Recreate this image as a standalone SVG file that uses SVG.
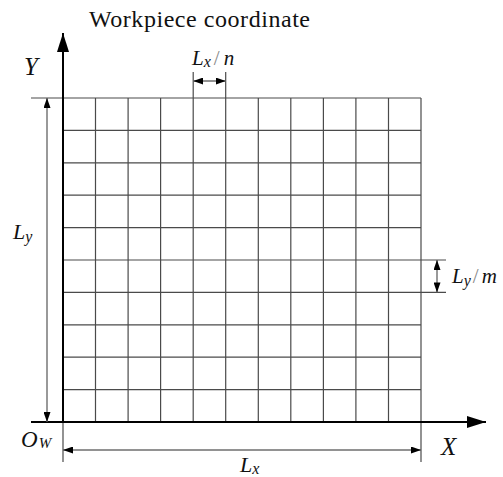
<svg xmlns="http://www.w3.org/2000/svg" width="503" height="477" viewBox="0 0 503 477">
<style>
.grid line{stroke:#4a4a4a;stroke-width:1.2}
.axis{stroke:#000;stroke-width:2;fill:none}
.dim{stroke:#6e6e6e;stroke-width:1.4;fill:none}
.lbl{font-family:"Liberation Serif","Times New Roman",Times,"DejaVu Serif",serif;fill:#111}
.it{font-style:italic}
.sl{font-style:normal;fill:#888}
</style>
<defs>
<marker id="ax" markerUnits="userSpaceOnUse" markerWidth="20" markerHeight="12" refX="19" refY="6" orient="auto"><path d="M0,0 L19,6 L0,12 z" fill="#000"/></marker>
<marker id="dm" markerUnits="userSpaceOnUse" markerWidth="11" markerHeight="7" refX="10" refY="3.5" orient="auto-start-reverse"><path d="M0,0 L10,3.5 L0,7 z" fill="#000"/></marker>
</defs>
<g id="grid" class="grid">
<line x1="95.5" y1="98" x2="95.5" y2="422"/>
<line x1="128.1" y1="98" x2="128.1" y2="422"/>
<line x1="160.6" y1="98" x2="160.6" y2="422"/>
<line x1="193.2" y1="72" x2="193.2" y2="422"/>
<line x1="225.7" y1="72" x2="225.7" y2="422"/>
<line x1="258.3" y1="98" x2="258.3" y2="422"/>
<line x1="290.8" y1="98" x2="290.8" y2="422"/>
<line x1="323.4" y1="98" x2="323.4" y2="422"/>
<line x1="355.9" y1="98" x2="355.9" y2="422"/>
<line x1="388.5" y1="98" x2="388.5" y2="422"/>
<line x1="421" y1="98" x2="421" y2="462"/>
<line x1="31" y1="98" x2="421" y2="98"/>
<line x1="63" y1="130.4" x2="421" y2="130.4"/>
<line x1="63" y1="162.8" x2="421" y2="162.8"/>
<line x1="63" y1="195.2" x2="421" y2="195.2"/>
<line x1="63" y1="227.6" x2="421" y2="227.6"/>
<line x1="63" y1="260" x2="446" y2="260"/>
<line x1="63" y1="292.4" x2="446" y2="292.4"/>
<line x1="63" y1="324.8" x2="421" y2="324.8"/>
<line x1="63" y1="357.2" x2="421" y2="357.2"/>
<line x1="63" y1="389.6" x2="421" y2="389.6"/>
<line x1="63" y1="422" x2="63" y2="462"/>
</g>
<g id="connectors">
<line class="axis" x1="63" y1="423" x2="63" y2="33" marker-end="url(#ax)"/>
<line class="axis" x1="31" y1="422" x2="486" y2="422" marker-end="url(#ax)"/>
<line class="dim" x1="47" y1="98" x2="47" y2="422" marker-start="url(#dm)" marker-end="url(#dm)"/>
<line class="dim" x1="63" y1="450" x2="421" y2="450" marker-start="url(#dm)" marker-end="url(#dm)"/>
<line class="dim" x1="193.2" y1="81" x2="225.7" y2="81" marker-start="url(#dm)" marker-end="url(#dm)"/>
<line class="dim" x1="437" y1="260" x2="437" y2="292.4" marker-start="url(#dm)" marker-end="url(#dm)"/>
</g>
<g id="labels">
<text class="lbl" x="89" y="27" font-size="24" textLength="221" lengthAdjust="spacing">Workpiece coordinate</text>
<text class="lbl it" x="24" y="75" font-size="25">Y</text>
<text class="lbl it" x="441" y="455" font-size="25">X</text>
<text class="lbl it" x="21" y="447" font-size="23">O<tspan font-size="15" dx="1" dy="1">W</tspan></text>
<text class="lbl it" x="13" y="239" font-size="22">L<tspan font-size="16" dy="3">y</tspan></text>
<text class="lbl it" x="240" y="472" font-size="22">L<tspan font-size="16" dy="2">x</tspan></text>
<text class="lbl it" x="192" y="65" font-size="21">L<tspan font-size="16" dy="2">x</tspan><tspan class="sl" dx="3" dy="-2">/</tspan><tspan dx="4">n</tspan></text>
<text class="lbl it" x="452" y="283" font-size="21">L<tspan font-size="16" dy="3">y</tspan><tspan class="sl" dx="2" dy="-3">/</tspan><tspan dx="3">m</tspan></text>
</g>
</svg>
